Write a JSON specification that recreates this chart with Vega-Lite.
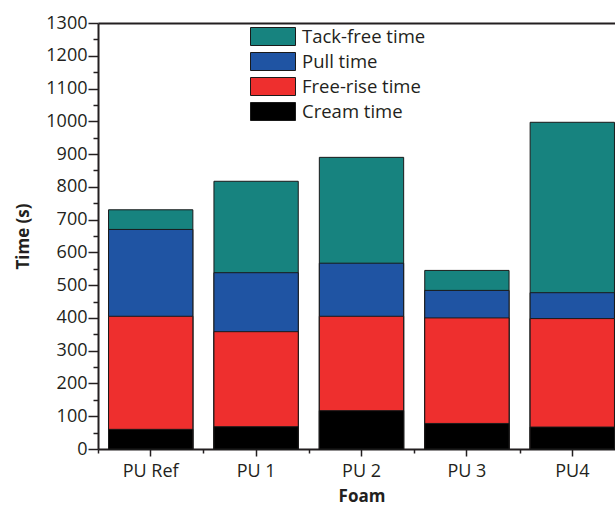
{
  "$schema": "https://vega.github.io/schema/vega-lite/v6.json",
  "width": 517,
  "height": 426,
  "autosize": {"type": "none"},
  "padding": {"left": 98, "top": 23, "right": 0, "bottom": 56},
  "config": {
    "view": {"stroke": null},
    "font": "Open Sans",
    "axis": {
      "grid": false,
      "domainColor": "#231f20",
      "domainWidth": 2,
      "tickColor": "#231f20",
      "tickWidth": 1.5,
      "labelColor": "#231f20",
      "titleColor": "#231f20",
      "labelFont": "Open Sans",
      "titleFont": "Open Sans"
    }
  },
  "data": {
    "values": [
      {"foam": "PU Ref", "event": "Tack-free time", "time": 730},
      {"foam": "PU 1", "event": "Tack-free time", "time": 817},
      {"foam": "PU 2", "event": "Tack-free time", "time": 890},
      {"foam": "PU 3", "event": "Tack-free time", "time": 545},
      {"foam": "PU4", "event": "Tack-free time", "time": 997},
      {"foam": "PU Ref", "event": "Pull time", "time": 670},
      {"foam": "PU 1", "event": "Pull time", "time": 538},
      {"foam": "PU 2", "event": "Pull time", "time": 567},
      {"foam": "PU 3", "event": "Pull time", "time": 484},
      {"foam": "PU4", "event": "Pull time", "time": 477},
      {"foam": "PU Ref", "event": "Free-rise time", "time": 405},
      {"foam": "PU 1", "event": "Free-rise time", "time": 358},
      {"foam": "PU 2", "event": "Free-rise time", "time": 405},
      {"foam": "PU 3", "event": "Free-rise time", "time": 400},
      {"foam": "PU4", "event": "Free-rise time", "time": 398},
      {"foam": "PU Ref", "event": "Cream time", "time": 60},
      {"foam": "PU 1", "event": "Cream time", "time": 68},
      {"foam": "PU 2", "event": "Cream time", "time": 117},
      {"foam": "PU 3", "event": "Cream time", "time": 78},
      {"foam": "PU4", "event": "Cream time", "time": 67}
    ]
  },
  "encoding": {
    "y": {
      "field": "time",
      "type": "quantitative",
      "stack": null,
      "title": "Time (s)",
      "scale": {"domain": [0, 1300], "nice": false},
      "axis": {
        "values": [0, 50, 100, 150, 200, 250, 300, 350, 400, 450, 500, 550, 600, 650, 700, 750, 800, 850, 900, 950, 1000, 1050, 1100, 1150, 1200, 1250, 1300],
        "format": "d",
        "labelExpr": "datum.value % 100 === 0 ? datum.label : ''",
        "tickSize": {"condition": {"test": "datum.value % 100 === 0", "value": 10}, "value": 5},
        "labelFontSize": 18,
        "labelPadding": 1,
        "titleFontSize": 17,
        "titleFontWeight": "bold",
        "titlePadding": 13
      }
    }
  },
  "layer": [
    {
      "mark": {"type": "bar", "stroke": "#1a1a1a", "strokeWidth": 1},
      "encoding": {
        "x": {
          "field": "foam",
          "type": "nominal",
          "sort": null,
          "title": "Foam",
          "scale": {"range": [0, 527], "paddingInner": 0.2, "paddingOuter": 0.1},
          "axis": {
            "labelAngle": 0,
            "tickSize": 7,
            "labelFontSize": 18,
            "labelPadding": 6,
            "titleFontSize": 17,
            "titleFontWeight": "bold",
            "titlePadding": 8
          }
        },
        "color": {
          "field": "event",
          "type": "nominal",
          "scale": {
            "domain": ["Tack-free time", "Pull time", "Free-rise time", "Cream time"],
            "range": ["#17837f", "#1f54a3", "#ee2f2e", "#000000"]
          },
          "legend": {
            "title": null,
            "orient": "none",
            "legendX": 165.5,
            "legendY": 4,
            "padding": 0,
            "symbolType": "M-2.5,-1H2.5V1H-2.5Z",
            "symbolSize": 324,
            "symbolStrokeColor": "#1a1a1a",
            "symbolStrokeWidth": 1,
            "symbolOpacity": 1,
            "labelFontSize": 18.5,
            "labelOffset": 19.5,
            "labelColor": "#231f20",
            "rowPadding": 2
          }
        }
      }
    },
    {
      "mark": {"type": "bar", "opacity": 0},
      "encoding": {
        "x": {
          "field": "foam",
          "type": "nominal",
          "sort": null,
          "axis": {
            "orient": "bottom",
            "title": null,
            "labels": false,
            "domain": false,
            "bandPosition": 0,
            "tickOffset": -10.54,
            "tickSize": 4
          }
        }
      }
    },
    {
      "mark": {"type": "bar", "opacity": 0},
      "encoding": {
        "x": {
          "field": "foam",
          "type": "nominal",
          "sort": null,
          "axis": {
            "orient": "top",
            "title": null,
            "labels": false,
            "ticks": false
          }
        }
      }
    }
  ],
  "resolve": {"axis": {"x": "independent"}}
}
